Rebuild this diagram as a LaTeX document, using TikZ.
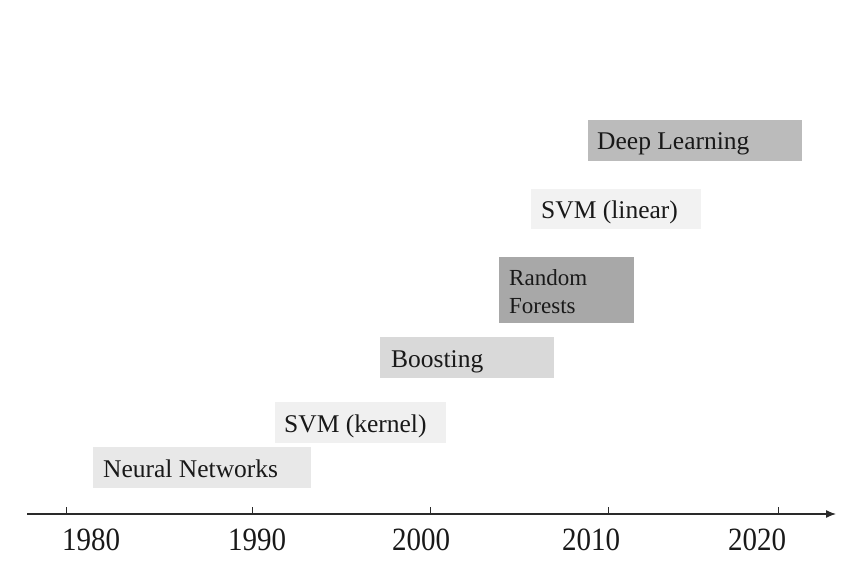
\documentclass[tikz,border=0pt]{standalone}
\usepackage{fontspec}
\usepackage{graphicx}
\setmainfont{Liberation Serif}
\usetikzlibrary{arrows.meta}
\definecolor{cNN}{HTML}{E8E8E8}
\definecolor{cSK}{HTML}{F0F0F0}
\definecolor{cBO}{HTML}{D9D9D9}
\definecolor{cRF}{HTML}{A8A8A8}
\definecolor{cSL}{HTML}{F2F2F2}
\definecolor{cDL}{HTML}{BBBBBB}
\definecolor{axisc}{HTML}{2A2A2A}
\newcommand{\yr}[1]{\scalebox{1}[1.12]{#1}}
\tikzset{
  era/.style={draw=none, inner sep=0pt, anchor=north west},
  lbl/.style={inner sep=0pt, anchor=base west, font=\fontsize{25.5}{30}\selectfont, text=black!90},
  lblsmall/.style={inner sep=0pt, anchor=base west, font=\fontsize{23}{28}\selectfont, text=black!90},
  year/.style={inner sep=0pt, anchor=base, font=\fontsize{29}{34}\selectfont, text=black!90},
  tick/.style={draw=axisc, line width=0.9pt},
  axisline/.style={draw=axisc, line width=1.3pt, -{Latex[length=10pt,width=8pt]}}
}
\begin{document}
\begin{tikzpicture}[x=1pt,y=-1pt]
\useasboundingbox (0,0) rectangle (857,564);
% boxes
\node[era, fill=cNN, minimum width=218pt, minimum height=41pt] (nn) at (93,447) {};
\node[era, fill=cSK, minimum width=171pt, minimum height=41pt] (sk) at (275,402) {};
\node[era, fill=cBO, minimum width=174pt, minimum height=41pt] (bo) at (380,337) {};
\node[era, fill=cRF, minimum width=135pt, minimum height=66pt] (rf) at (499,257) {};
\node[era, fill=cSL, minimum width=170pt, minimum height=40pt] (sl) at (531,189) {};
\node[era, fill=cDL, minimum width=214pt, minimum height=41pt] (dl) at (588,120) {};
% labels
\node[lbl] (nnt) at (103,477) {Neural Networks};
\node[lbl] (skt) at (284,432) {SVM (kernel)};
\node[lbl] (bot) at (391,367) {Boosting};
\node[lblsmall] (rft1) at (509,285) {Random};
\node[lblsmall] (rft2) at (509,313) {Forests};
\node[lbl] (slt) at (541,219) {SVM (linear)};
\node[lbl] (dlt) at (597,150) {Deep Learning};
% axis
\coordinate (a0) at (27,514);
\coordinate (a1) at (836,514);
\draw[axisline] (a0) -- (a1);
\foreach \x/\n in {66/t1980,252/t1990,430/t2000,608/t2010,778/t2020}{
  \coordinate (\n) at (\x,514);
  \draw[tick] (\n) -- ++(0,-7);
}
\node[year] (y1980) at (91,550) {\yr{1980}};
\node[year] (y1990) at (257,550) {\yr{1990}};
\node[year] (y2000) at (421,550) {\yr{2000}};
\node[year] (y2010) at (591,550) {\yr{2010}};
\node[year] (y2020) at (757,550) {\yr{2020}};
\end{tikzpicture}
\end{document}
